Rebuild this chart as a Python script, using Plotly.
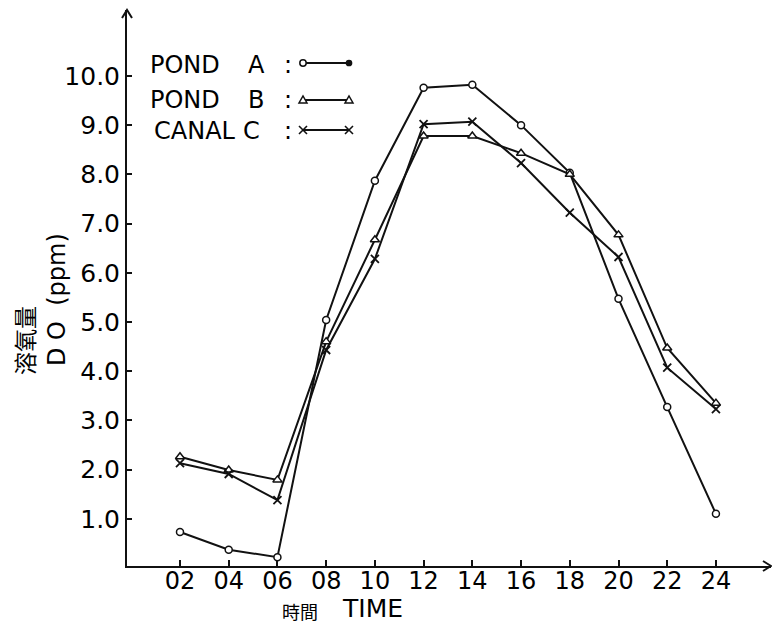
import plotly.graph_objects as go

# ---------------- data ----------------
x_hours = [2, 4, 6, 8, 10, 12, 14, 16, 18, 20, 22, 24]
x_labels = ["02", "04", "06", "08", "10", "12", "14", "16", "18", "20", "22", "24"]
y_ticks = [1, 2, 3, 4, 5, 6, 7, 8, 9, 10]
y_labels = ["1.0", "2.0", "3.0", "4.0", "5.0", "6.0", "7.0", "8.0", "9.0", "10.0"]

pond_a = [0.73, 0.37, 0.22, 5.04, 7.87, 9.76, 9.82, 9.00, 8.03, 5.47, 3.27, 1.10]
pond_b = [2.26, 1.99, 1.79, 4.60, 6.67, 8.78, 8.78, 8.43, 8.00, 6.77, 4.47, 3.35]
canal_c = [2.13, 1.91, 1.38, 4.43, 6.28, 9.02, 9.07, 8.23, 7.22, 6.32, 4.07, 3.23]

series_names = ["POND  A", "POND  B", "CANAL C"]
y_title = "D O  (ppm)"
y_title_zh = "溶氧量"
x_title = "TIME"
x_title_zh = "時間"

# ---------------- layout geometry ----------------
W, H = 772, 632
L, R, T, B = 127, 1, 10, 66
pw = W - L - R
ph = H - T - B


def px(xp):
    return (xp - L) / pw


def py(yp):
    return (H - B - yp) / ph


FONT = "DejaVu Sans"
INK = "#111111"

fig = go.Figure()

styles = [
    dict(symbol="circle", size=7, color="white", line=dict(color=INK, width=1.5)),
    dict(symbol="triangle-up", size=8, color="white", line=dict(color=INK, width=1.5)),
    dict(symbol="x-thin-open", size=8, color=INK, line=dict(color=INK, width=1.8)),
]
for name, vals, mk in zip(series_names, [pond_a, pond_b, canal_c], styles):
    fig.add_trace(go.Scatter(
        x=x_hours, y=vals, name=name, mode="lines+markers",
        line=dict(color=INK, width=2), marker=mk, showlegend=False,
    ))

shapes = []
annotations = []

# axis arrowheads
shapes.append(dict(type="path", xref="paper", yref="paper", xsizemode="pixel", ysizemode="pixel",
                   xanchor=0, yanchor=1, path="M -5,-8 L 0,0 L 5,-8",
                   line=dict(color=INK, width=2)))
shapes.append(dict(type="path", xref="paper", yref="paper", xsizemode="pixel", ysizemode="pixel",
                   xanchor=1, yanchor=0, path="M -8,5 L 0,0 L -8,-5",
                   line=dict(color=INK, width=2)))

# custom legend
rows_text_y = [65, 100, 131]
rows_line_y = [63, 100, 130]
name_x = [148, 148, 152]
letter_x = [246, 246, 241]
for i, nm in enumerate(series_names):
    word, letter = nm.rsplit(" ", 1)
    word = word.strip()
    annotations.append(dict(xref="paper", yref="paper", x=px(name_x[i]), y=py(rows_text_y[i]),
                            xanchor="left", yanchor="middle", text=word, showarrow=False,
                            font=dict(family=FONT, size=24, color="black")))
    annotations.append(dict(xref="paper", yref="paper", x=px(letter_x[i]), y=py(rows_text_y[i]),
                            xanchor="left", yanchor="middle", text=letter, showarrow=False,
                            font=dict(family=FONT, size=24, color="black")))
    annotations.append(dict(xref="paper", yref="paper", x=px(288), y=py(rows_text_y[i]),
                            xanchor="center", yanchor="middle", text=":", showarrow=False,
                            font=dict(family=FONT, size=24, color="black")))
    ly = py(rows_line_y[i])
    shapes.append(dict(type="line", xref="paper", yref="paper", x0=px(303), x1=px(349), y0=ly, y1=ly,
                       line=dict(color=INK, width=1.8)))
    for j, lx in enumerate([303, 349]):
        base = dict(xref="paper", yref="paper", xsizemode="pixel", ysizemode="pixel",
                    xanchor=px(lx), yanchor=ly)
        if i == 0:
            r = 3.2 if j == 0 else 2.6
            shapes.append(dict(base, type="circle", x0=-r, x1=r, y0=-r, y1=r,
                               fillcolor="white" if j == 0 else INK,
                               line=dict(color=INK, width=1.5)))
        elif i == 1:
            shapes.append(dict(base, type="path", path="M -4,-3 L 4,-3 L 0,4 Z",
                               fillcolor="white", line=dict(color=INK, width=1.5)))
        else:
            shapes.append(dict(base, type="path", path="M -4,-4 L 4,4 M -4,4 L 4,-4",
                               line=dict(color=INK, width=1.6)))

# axis titles
annotations.append(dict(xref="paper", yref="paper", x=px(57), y=py(300), text=y_title,
                        textangle=-90, showarrow=False, xanchor="center", yanchor="middle",
                        font=dict(family=FONT, size=24, color="black")))
annotations.append(dict(xref="paper", yref="paper", x=px(24), y=py(341), text=y_title_zh,
                        textangle=-90, showarrow=False, xanchor="center", yanchor="middle",
                        font=dict(family="Noto Sans CJK TC", size=23, color="black")))
annotations.append(dict(xref="paper", yref="paper", x=px(300), y=py(611), text=x_title_zh,
                        showarrow=False, xanchor="center", yanchor="middle",
                        font=dict(family="Noto Sans CJK TC", size=18, color="black")))
annotations.append(dict(xref="paper", yref="paper", x=px(372), y=py(608), text=x_title,
                        showarrow=False, xanchor="center", yanchor="middle",
                        font=dict(family=FONT, size=25, color="black")))

fig.update_layout(
    width=W, height=H,
    margin=dict(l=L, r=R, t=T, b=B, pad=0, autoexpand=False),
    paper_bgcolor="white", plot_bgcolor="white",
    shapes=shapes, annotations=annotations,
    xaxis=dict(range=[-0.175, 26.26], showline=True, linecolor=INK, linewidth=2,
               ticks="inside", ticklen=6, tickwidth=1.5, tickcolor=INK,
               tickvals=x_hours, ticktext=x_labels, showgrid=False, zeroline=False,
               automargin=False, ticklabelstandoff=-8,
               tickfont=dict(family=FONT, size=24, color="black")),
    yaxis=dict(range=[0.04, 11.34], showline=True, linecolor=INK, linewidth=2,
               ticks="inside", ticklen=5, tickwidth=1.5, tickcolor=INK,
               tickvals=y_ticks, ticktext=y_labels, showgrid=False, zeroline=False,
               automargin=False, ticklabelstandoff=0,
               tickfont=dict(family=FONT, size=25, color="black")),
)

fig.write_html("out.html", config={"displayModeBar": False},
               post_script="document.body.style.margin='0';document.body.style.overflow='hidden';")
